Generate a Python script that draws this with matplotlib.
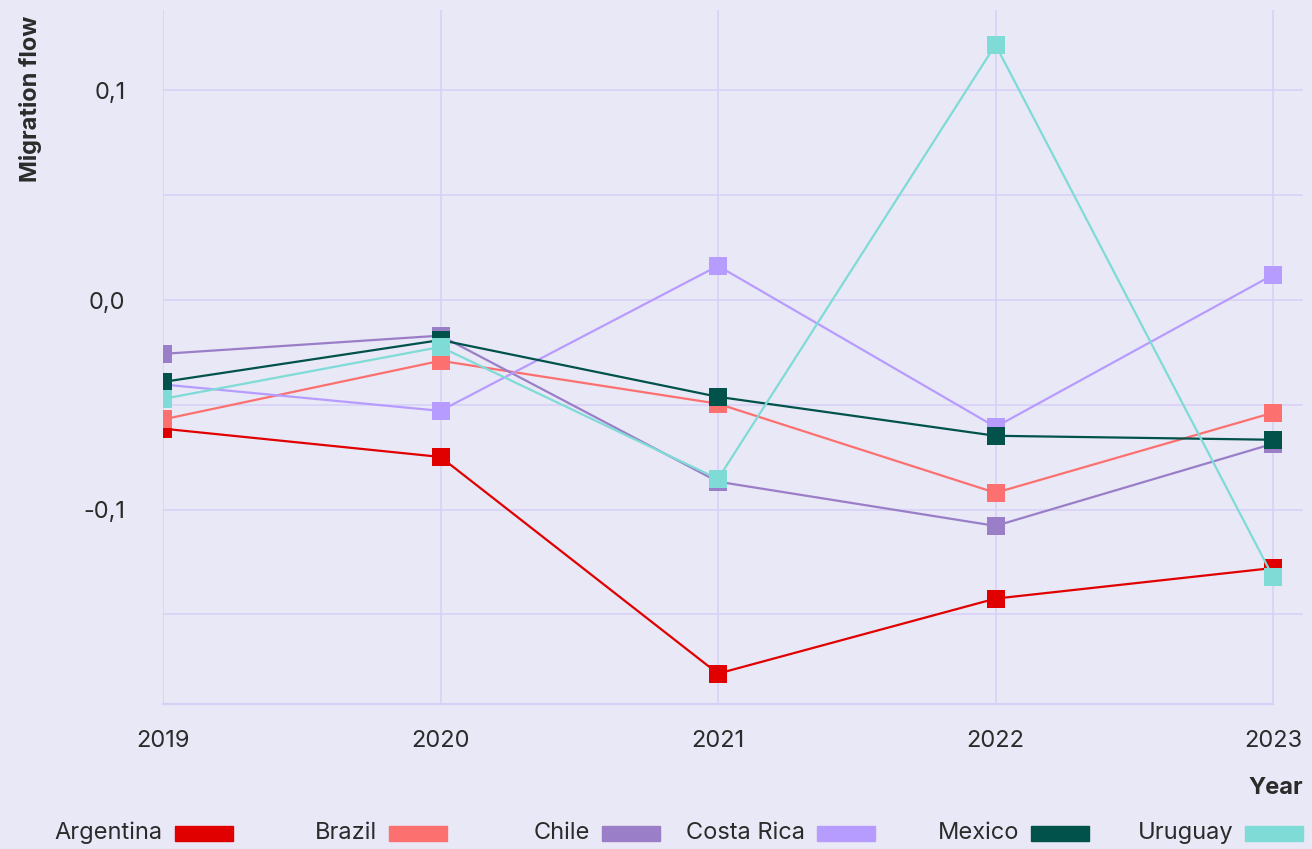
import matplotlib.pyplot as plt
from matplotlib.patches import Rectangle
from matplotlib.ticker import FuncFormatter, MultipleLocator

# data
years = [2019, 2020, 2021, 2022, 2023]
countries = ["Argentina", "Brazil", "Chile", "Costa Rica", "Mexico", "Uruguay"]
colors = ["#E00000", "#FC7070", "#9A7EC8", "#B79CFF", "#00524A", "#7FDBD6"]

argentina = [-0.0614, -0.0749, -0.1783, -0.1425, -0.1279]
brazil = [-0.0570, -0.0290, -0.0495, -0.0920, -0.0538]
chile = [-0.0257, -0.0170, -0.0867, -0.1078, -0.0686]
costa_rica = [-0.0403, -0.0529, 0.0163, -0.0606, 0.0120]
mexico = [-0.0391, -0.0191, -0.0462, -0.0648, -0.0667]
uruguay = [-0.0472, -0.0224, -0.0854, 0.1218, -0.1321]

series = [argentina, brazil, chile, costa_rica, mexico, uruguay]

bg = "#E9E8F6"
grid_c = "#D6D0F7"
text_c = "#2B2B2B"

plt.rcParams["font.family"] = ["Inter", "DejaVu Sans"]

fig = plt.figure(figsize=(13.12, 8.49), dpi=100, facecolor=bg)
ax = fig.add_axes([163 / 1312, 1 - 704 / 849, (1303 - 163) / 1312, (704 - 10) / 849])
ax.set_facecolor(bg)

for vals, col in zip(series, colors):
    ax.plot(years, vals, color=col, lw=1.6, marker="s", markersize=13.5,
            markeredgewidth=0, zorder=3)

ax.set_xlim(2019, 2023 + 30 / 277.5)
ax.set_ylim(-0.1928, 0.1384)
ax.set_xticks(years)
ax.yaxis.set_major_locator(MultipleLocator(0.1))
ax.yaxis.set_minor_locator(MultipleLocator(0.05))
ax.yaxis.set_major_formatter(FuncFormatter(lambda v, p: f"{v:.1f}".replace(".", ",").replace("-0,0", "0,0")))

ax.grid(True, which="both", color=grid_c, lw=1.1, zorder=0)
ax.tick_params(which="both", length=0)
ax.tick_params(axis="x", labelsize=17, colors=text_c, pad=19)
ax.tick_params(axis="y", labelsize=17, colors=text_c, pad=27)

for s in ["top", "right", "left"]:
    ax.spines[s].set_visible(False)
ax.spines["bottom"].set_color(grid_c)
ax.spines["bottom"].set_linewidth(1.6)
ax.spines["bottom"].set_bounds(2019, 2023)

fig.text(31 / 1312, 1 - 99 / 849, "Migration flow", rotation=90, ha="center", va="center",
         fontsize=17, fontweight="bold", color=text_c)
fig.text(1303 / 1312, 1 - 788 / 849, "Year", ha="right", va="center",
         fontsize=17, fontweight="bold", color=text_c)

# legend: label then swatch, swatches right-aligned in columns
sw_right = [233, 447, 660, 875, 1089, 1303]
yc = 1 - 833 / 849
for name, col, xr in zip(countries, colors, sw_right):
    x0 = (xr - 58) / 1312
    fig.patches.append(Rectangle((x0, yc - 7.5 / 849), 58 / 1312, 15 / 849,
                                 transform=fig.transFigure, color=col))
    fig.text(x0 - 12 / 1312, yc, name, ha="right", va="center", fontsize=17, color=text_c)

fig.savefig("out.png", dpi=100, facecolor=bg)
